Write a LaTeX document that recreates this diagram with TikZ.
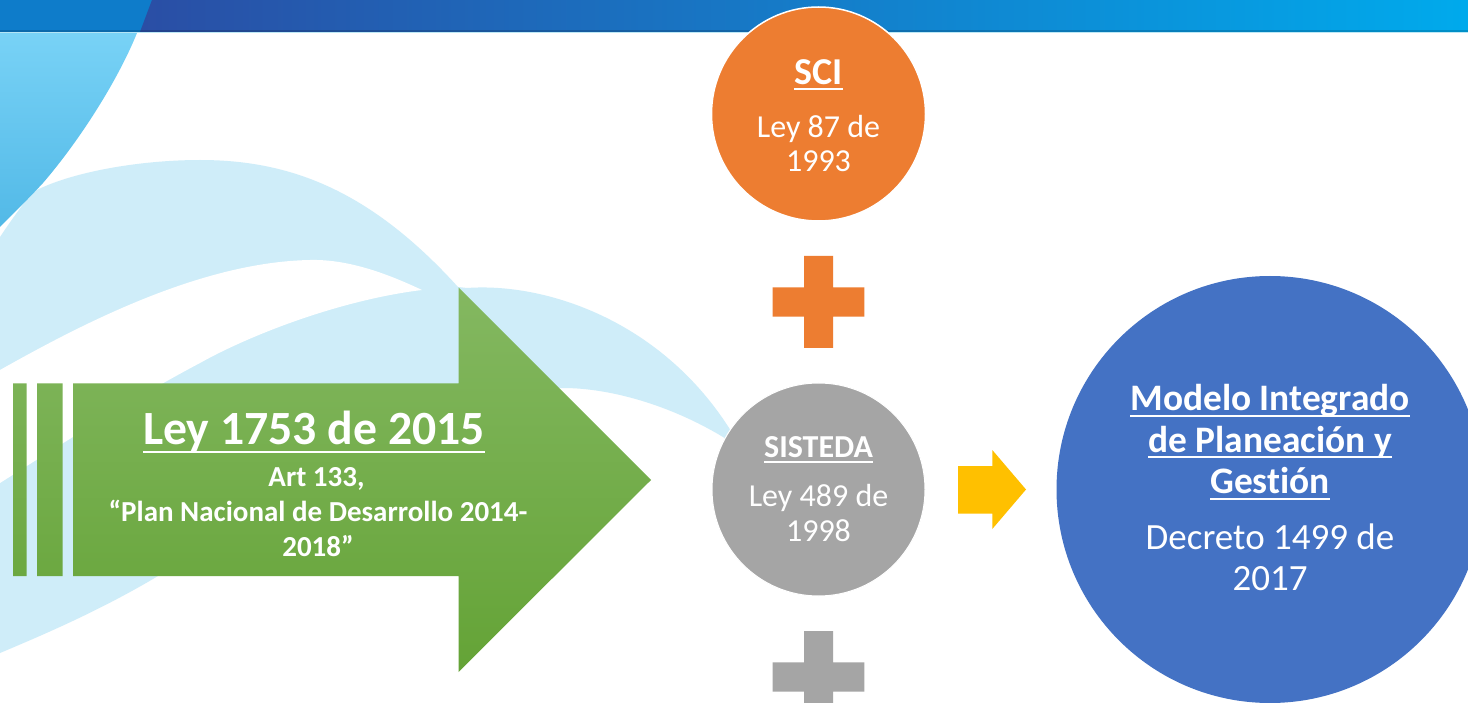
\documentclass[tikz,border=0pt]{standalone}
\usepackage{fontspec}
\setmainfont{Carlito}[Ligatures=NoCommon]
\definecolor{pale}{HTML}{CFEDF9}
\definecolor{skyA}{HTML}{78D2F6}
\definecolor{skyB}{HTML}{52B9E7}
\definecolor{orangeC}{HTML}{ED7D31}
\definecolor{grayC}{HTML}{A5A5A5}
\definecolor{blueC}{HTML}{4472C4}
\definecolor{yellowC}{HTML}{FFC000}
\definecolor{greenT}{HTML}{84B861}
\definecolor{greenM}{HTML}{70AF45}
\definecolor{greenB}{HTML}{64A336}
\definecolor{bandL}{HTML}{0E7CCA}
\definecolor{bandA}{HTML}{2A4EA5}
\definecolor{bandB}{HTML}{1970BE}
\definecolor{bandC}{HTML}{00AAEC}
\definecolor{bandEdge}{HTML}{6ECDEB}
\newcommand{\fs}[1]{\fontsize{#1}{#1}\selectfont}
\newsavebox{\ulbox}
\newcommand{\uln}[3]{\sbox{\ulbox}{#3}\rlap{\raisebox{-#1}{\rule{\wd\ulbox}{#2}}}\usebox{\ulbox}}
\tikzset{
  disc/.style={circle,minimum size=#1,inner sep=0pt},
  txt/.style={text=white,anchor=base,inner sep=0pt,yshift=-1.5pt},
  plusA/.style={fill=orangeC},
  plusB/.style={fill=grayC}
}
\begin{document}
\begin{tikzpicture}[x=1pt,y=-1pt]
\useasboundingbox (0,0) rectangle (1468,703);
\fill[white] (0,0) rectangle (1468,703);
% header band
\fill[bandL] (0,0) rectangle (160,32);
\shade[left color=bandA,middle color=bandB,right color=bandC] (152,0) -- (1468,0) -- (1468,32) -- (140,32) -- cycle;
\fill[black,opacity=.15] (0,30.5) rectangle (1468,32);
\fill[bandEdge,opacity=.45] (0,32) rectangle (1468,33);
% pale swoosh
\fill[pale] (0,237) .. controls (10,222) and (22,205) .. (33,192)
  .. controls (70,172) and (140,160) .. (200,160)
  .. controls (290,160) and (370,190) .. (458,287)
  -- (467,288) .. controls (550,282) and (675,325) .. (742,450)
  -- (723,437) .. controls (670,405) and (610,388) .. (563,388)
  .. controls (470,388) and (300,490) .. (153,579)
  .. controls (100,610) and (50,632) .. (0,653) -- cycle;
% white sliver
\fill[white] (0,370) .. controls (80,325) and (200,262) .. (310,260)
  .. controls (350,259) and (390,275) .. (422,290)
  .. controls (340,300) and (250,335) .. (200,363)
  .. controls (130,400) and (60,445) .. (0,483) -- cycle;
% sky corner
\shade[top color=skyA,bottom color=skyB] (0,33) -- (137,33) .. controls (118,80) and (80,140) .. (43,183) .. controls (30,197) and (15,212) .. (0,227) -- cycle;
% green arrow with bars
\shade[top color=greenT,middle color=greenM,bottom color=greenB]
  (13,383.5) rectangle (26.5,576)
  (37,383.5) rectangle (62.5,576)
  (73,383.5) -- (458.5,383.5) -- (458.5,287.5) -- (651,480) -- (458.5,672) -- (458.5,576) -- (73,576) -- cycle;
% circles
\node[disc=214pt,fill=orangeC,draw=white,line width=1.5pt] (sci) at (818.5,114) {};
\node[disc=213pt,fill=grayC,draw=white,line width=1pt] (sisteda) at (818.5,489.5) {};
\node[disc=427pt,fill=blueC] (mipg) at (1270,489.5) {};
% plus signs
\fill[plusA] (804,256) -- (833,256) -- (833,287.3) -- (864.3,287.3) -- (864.3,316.7) -- (833,316.7) -- (833,348) -- (804,348) -- (804,316.7) -- (772.7,316.7) -- (772.7,287.3) -- (804,287.3) -- cycle;
\fill[plusB] (804,631) -- (833,631) -- (833,662.3) -- (864.3,662.3) -- (864.3,691.7) -- (833,691.7) -- (833,723) -- (804,723) -- (804,691.7) -- (772.7,691.7) -- (772.7,662.3) -- (804,662.3) -- cycle;
% yellow arrow
\fill[yellowC] (958,466) -- (992.3,466) -- (992.3,450) -- (1026,489.5) -- (992.3,529) -- (992.3,513.5) -- (958,513.5) -- cycle;
% green text
\node[txt] (t1) at (314,442.5) {\fs{47.7}\bfseries\uln{9pt}{2.5pt}{Ley 1753 de 2015}};
\node[txt] (t2) at (316.5,485) {\fs{29}\bfseries Art 133,};
\node[txt] (t3) at (318,519.5) {\fs{29}\bfseries “Plan Nacional de Desarrollo 2014-};
\node[txt] (t4) at (318,554.5) {\fs{29}\bfseries 2018”};
% SCI
\node[txt] (s1) at (818.5,83) {\fs{38}\bfseries\uln{6pt}{2pt}{SCI}};
\node[txt] (s2) at (818.5,136) {\fs{32}Ley 87 de};
\node[txt] (s3) at (818.5,170) {\fs{32}1993};
% SISTEDA
\node[txt] (g1) at (818.5,456) {\fs{32}\bfseries\uln{5pt}{2pt}{SISTEDA}};
\node[txt] (g2) at (818.5,505) {\fs{32}Ley 489 de};
\node[txt] (g3) at (818.5,540) {\fs{32}1998};
% MIPG
\node[txt] (b1) at (1270,409) {\fs{37.4}\bfseries\uln{6pt}{2pt}{Modelo Integrado}};
\node[txt] (b2) at (1270,451) {\fs{37.4}\bfseries\uln{6pt}{2pt}{de Planeación y}};
\node[txt] (b3) at (1270,492) {\fs{37.4}\bfseries\uln{6pt}{2pt}{Gestión}};
\node[txt] (b4) at (1270,548) {\fs{37}Decreto 1499 de};
\node[txt] (b5) at (1270,589) {\fs{37}2017};
\end{tikzpicture}
\end{document}
